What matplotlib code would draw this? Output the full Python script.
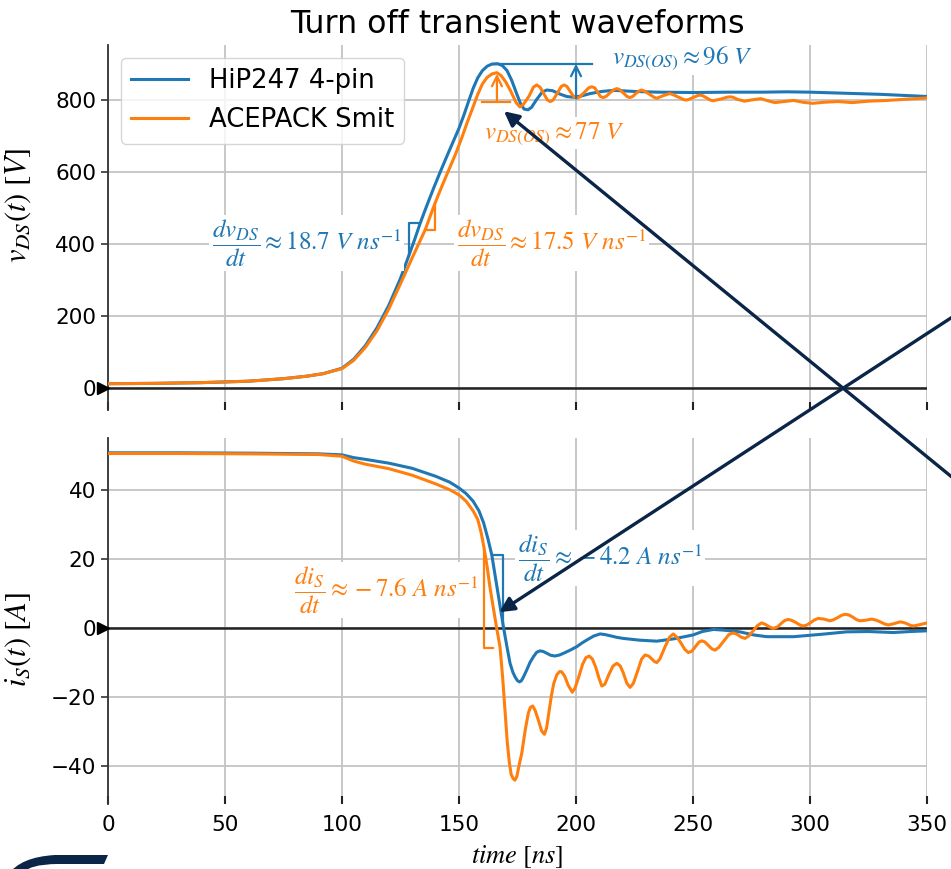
import matplotlib
matplotlib.use("Agg")
import matplotlib.pyplot as plt
from matplotlib.patches import ConnectionPatch, PathPatch
from matplotlib.path import Path

plt.rcParams["font.family"] = ["DejaVu Sans"]
plt.rcParams["mathtext.fontset"] = "stix"

BLUE = "#1f77b4"
ORANGE = "#ff7f0e"
NAVY = "#0b2548"

# ---------------- drain-source voltage v_DS(t) [V] ----------------
t_v_hip = [0, 20, 40, 60, 75, 85, 92, 100, 105, 110, 115, 120, 125, 128.6, 131,
           133.4, 136, 139, 142, 145, 148, 150, 152, 154, 156, 158, 160,
           162, 164, 166.5, 168.5, 170.5, 172.5, 174.5, 176.3, 177.8, 179.5,
           181, 183, 185.5, 187.5, 190, 193, 196, 198.7, 202, 206, 211, 216,
           225, 235, 250, 265, 280, 290, 300, 315, 330, 340, 350]
v_hip = [12, 13, 15, 19, 26, 33, 40, 55, 80, 118, 168, 230, 305, 369, 412,
         458, 503, 553, 601, 647, 692, 722, 757, 795, 832, 862, 882,
         894, 900, 901, 896, 882, 855, 820, 790, 775, 773,
         780, 800, 822, 828, 826, 817, 810, 808, 811, 818, 824, 827,
         824, 822, 821, 822, 822, 823, 822, 819, 816, 813, 810]

t_v_ace = [0, 20, 40, 60, 75, 85, 92, 100, 105, 110, 115, 120, 125, 130, 135.5,
           139.7, 142.5, 145.5, 148.5, 151, 153.5, 156, 158, 160, 162, 164.2,
           166.2, 168, 170, 172, 174.4, 176, 177.5, 180, 181.8, 183.2, 184.6,
           186, 187.8, 189, 190.2, 192, 193.7, 194.9, 196.1, 197.6, 199.2,
           200.3, 201.4, 203.5, 205.4, 206.7, 208, 209.2, 210.4, 211.6, 212.8,
           214.5, 216.2, 217.4, 218.6, 220.2, 221.8, 223, 224.2, 225.5, 226.9,
           228, 229.2, 231.2, 233.3, 234.5, 235.6, 237.2, 238.9, 240, 241.1,
           243.5, 245.8, 247, 248.2, 250, 251.8, 253, 254.2, 255.8, 257.4,
           258.6, 259.8, 262, 264.5, 265.8, 267, 269, 272, 275.5, 279, 282, 285,
           289, 293, 297, 301, 306, 312, 318, 325, 333, 340, 350]
v_ace = [12, 13, 15, 19, 26, 33, 40, 54, 77, 113, 160, 220, 290, 362, 439,
         513, 558, 604, 650, 692, 738, 781, 816, 845, 863, 873,
         876, 868, 850, 826, 793, 781, 788, 812, 836, 842, 836,
         820, 800, 796, 800, 819, 838, 842, 838, 823, 808,
         805, 808, 821, 834, 837, 834, 822, 810, 807, 810,
         820, 829, 832, 829, 820, 810, 807, 810, 818, 825,
         828, 825, 817, 808, 805, 808, 812, 816, 818, 816,
         809, 802, 800, 802, 807, 812, 814, 812, 806, 800,
         798, 800, 803, 808, 809, 808, 802, 797, 801, 804, 798, 793,
         796, 799, 794, 791, 794, 796, 793, 797, 799, 802, 806]

# ---------------- source current i_S(t) [A] ----------------
t_i_hip = [0, 30, 60, 90, 100, 105, 110, 120, 130, 140, 146, 150, 153, 156,
           158.5, 160.5, 162.3, 164, 166.5, 169, 170.5, 171.8, 173, 173.9,
           174.9, 175.8, 176.6, 177.3, 178.9, 180.3, 181.8, 183.2, 184.6, 186,
           187.5, 189.2, 191, 193, 195, 197.5, 200.3, 202.6, 205, 207.6, 210.3,
           212.5, 215, 217.5, 220.2, 227, 234.5, 242, 250, 254, 258.7, 263, 270,
           276, 281.5, 293, 305, 315.6, 325, 335.5, 343, 350]
i_hip = [50.8, 50.8, 50.7, 50.5, 50.2, 49.4, 48.9, 47.8, 46.3, 44.0, 42.3, 40.6,
         39.0, 36.8, 34.0, 30.5, 26.0, 21.2, 10.7, 0.2, -5.5, -10.2, -12.8, -14.1,
         -15.2, -15.6, -15.3, -14.5, -12.2, -10.0, -8.3, -7.0, -6.6, -6.8,
         -7.3, -7.9, -8.1, -7.8, -7.2, -6.4, -5.4, -4.3, -3.3, -2.3, -1.7,
         -1.9, -2.3, -2.7, -3.0, -3.5, -3.8, -3.1, -2.0, -1.0, -0.4, -0.6, -1.1,
         -2.0, -2.5, -2.5, -1.8, -1.1, -1.0, -1.3, -1.0, -0.8]

t_i_ace = [0, 30, 60, 90, 100, 105, 110, 120, 130, 140, 146, 150, 153, 156, 158,
           159.5, 160.7, 162, 163.2, 164.6, 166, 167.5, 168.6, 169.7, 170.6,
           171.5, 172.3, 173.1, 173.9, 174.7, 175.6, 176.8, 178.3, 179.6, 180.5,
           181.5, 182.6, 183.9, 185.3, 186.5, 187.4, 188.5, 189.5, 190.5, 191.8,
           193, 193.9, 195.2, 196.6, 198.4, 199.5, 201, 202.8, 204.2, 205.6, 207,
           208.5, 209.8, 211, 212.3, 214, 215.8, 217.4, 218.9, 220.2, 221.7,
           223.1, 224.5, 226.3, 228, 229.5, 231, 232.3, 233.5, 234.5, 235.8, 238,
           240, 241.6, 243.3, 244.8, 246.5, 248, 249.5, 251.2, 252.5, 253.7, 255,
           256.5, 258, 259.4, 261, 263.3, 265.3, 267.2, 268.8, 270.5, 272.2,
           273.8, 275.7, 277.5, 279.3, 280.8, 282.5, 284.3, 286, 287.8, 289.2,
           290.7, 292.3, 294, 295.6, 297.1, 298.7, 300.3, 302, 303.5, 306, 308.5,
           310, 311.7, 313.5, 315, 316.6, 318.2, 320, 321.4, 324, 326.4, 328.2,
           330, 331.8, 333.5, 336, 338.5, 340, 341.3, 342.8, 344.2, 347, 350]
i_ace = [50.6, 50.6, 50.5, 50.3, 49.8, 48.4, 47.5, 46.2, 44.3, 41.8, 40.1, 38.6,
         36.8, 34.0, 31.5, 27.5, 23.2, 17.8, 11.9, 6.0, 0.3, -5.4, -14.0, -24.7,
         -33.0, -39.0, -42.5, -43.6, -44.1, -43.0, -40.0, -36.3, -29.5, -24.7,
         -23.0, -22.6, -24.0, -26.7, -29.8, -30.8, -29.0, -24.0, -19.5, -16.0,
         -13.5, -12.6, -12.7, -14.0, -16.5, -18.6, -17.5, -14.5, -10.5, -8.6,
         -8.1, -9.0, -11.5, -14.5, -16.8, -16.3, -13.5, -11.0, -10.2, -11.0,
         -13.0, -16.0, -17.2, -16.0, -12.5, -9.0, -7.8, -8.1, -8.9, -9.7, -10.0,
         -9.0, -5.5, -2.6, -1.7, -2.8, -4.3, -6.2, -7.1, -6.7, -5.2, -4.1, -3.7,
         -4.0, -5.0, -6.0, -6.4, -5.6, -3.6, -1.9, -1.4, -1.8, -2.6, -3.0, -2.3,
         -0.8, 0.7, 1.5, 1.1, 0.4, -0.1, 0.3, 1.4, 2.2, 2.5, 2.2, 1.6, 0.9, 0.6,
         0.9, 1.6, 2.4, 2.8, 2.6, 2.1, 2.4, 3.0, 3.7, 4.0, 3.8, 3.2, 2.4, 2.1,
         2.3, 2.6, 2.3, 1.8, 1.2, 0.9, 1.3, 1.8, 1.6, 1.3, 0.8, 0.6, 1.0, 1.5]

# ---------------- slope / overshoot annotations ----------------
dvdt_hip = 18.7          # V/ns
dvdt_ace = 17.5          # V/ns
didt_hip = -4.2          # A/ns
didt_ace = -7.6          # A/ns
os_hip = 96              # V
os_ace = 77              # V

fig = plt.figure(figsize=(9.51, 8.69), dpi=100)
ax_v = fig.add_axes([0.1136, 0.5282, 0.8612, 0.4200])
ax_i = fig.add_axes([0.1136, 0.0748, 0.8612, 0.4212])

ax_v.plot(t_v_hip, v_hip, color=BLUE, lw=2.2, label="HiP247 4-pin", zorder=3)
ax_v.plot(t_v_ace, v_ace, color=ORANGE, lw=2.2, label="ACEPACK Smit", zorder=3)
ax_i.plot(t_i_hip, i_hip, color=BLUE, lw=2.2, zorder=3)
ax_i.plot(t_i_ace, i_ace, color=ORANGE, lw=2.2, zorder=3)

for ax in (ax_v, ax_i):
    ax.set_xlim(0, 350)
    ax.set_xticks(range(0, 351, 50))
    ax.grid(True, color="#c4c4c4", lw=1.3)
    ax.set_axisbelow(True)
    for side in ("top", "right", "bottom"):
        ax.spines[side].set_visible(False)
    ax.spines["left"].set_color("#333333")
    ax.spines["left"].set_linewidth(1.3)
    ax.tick_params(axis="x", direction="in", length=6, width=1.5, color="#222222",
                   labelsize=15.5, pad=8)
    ax.tick_params(axis="y", direction="out", length=5, width=1.2, color="#333333",
                   labelsize=15.5)
    ax.axhline(0, color="#222222", lw=1.8, zorder=2)
    ax.plot([-0.0065], [0], marker=">", color="k", ms=9, ls="none",
            transform=ax.get_yaxis_transform(), clip_on=False, zorder=5)

ax_v.tick_params(labelbottom=False)
ax_v.set_ylim(-61, 953)
ax_v.set_yticks([0, 200, 400, 600, 800])
ax_i.set_ylim(-51, 55.1)
ax_i.set_yticks([-40, -20, 0, 20, 40])

ax_v.set_ylabel(r"$v_{DS}(t)\ [V]$", fontsize=22)
ax_i.set_ylabel(r"$i_{S}(t)\ [A]$", fontsize=22)
ax_v.yaxis.set_label_coords(-0.092, 0.56)
ax_i.yaxis.set_label_coords(-0.092, 0.45)
ax_i.set_xlabel(r"$time\ [ns]$", fontsize=19, labelpad=6)
ax_v.set_title("Turn off transient waveforms", fontsize=22.8, pad=9)

ax_v.legend(loc="upper left", fontsize=18.6, handlelength=2.2, framealpha=0.8,
            edgecolor="#cccccc")

# slope triangles on the voltage rise
t1, v1 = 128.6, 369
v2 = 458
ax_v.plot([t1, t1, t1 + (v2 - v1) / dvdt_hip], [v1, v2, v2], color=BLUE, lw=1.6, zorder=4)
t1, v1, t2 = 135.5, 439, 139.7
ax_v.plot([t1, t2, t2], [v1, v1, v1 + dvdt_ace * (t2 - t1)], color=ORANGE, lw=1.6, zorder=4)

# overshoot markers
base_hip, t_os_hip = 805, 200
ax_v.plot([164.5, 206.8], [base_hip + os_hip] * 2, color=BLUE, lw=1.6, zorder=4)
ax_v.annotate("", xy=(t_os_hip, base_hip + os_hip), xytext=(t_os_hip, base_hip),
              arrowprops=dict(arrowstyle="->", color=BLUE, lw=1.6, shrinkA=0, shrinkB=0,
                              mutation_scale=18), zorder=4)
base_ace, t_os_ace = 796, 166.2
ax_v.plot([160, 171.8], [base_ace] * 2, color=ORANGE, lw=1.6, zorder=4)
ax_v.annotate("", xy=(t_os_ace, base_ace + os_ace), xytext=(t_os_ace, base_ace),
              arrowprops=dict(arrowstyle="->", color=ORANGE, lw=1.6, shrinkA=0, shrinkB=0,
                              mutation_scale=18), zorder=4)

# slope triangles on the current fall
t1, i1, i2 = 164.0, 21.2, 0.2
ax_i.plot([t1, t1 + (i2 - i1) / didt_hip, t1 + (i2 - i1) / didt_hip], [i1, i1, i2],
          color=BLUE, lw=1.6, zorder=4)
t1, i1, i2 = 160.7, 23.2, -5.8
ax_i.plot([t1, t1, t1 + (i2 - i1) / didt_ace], [i1, i2, i2], color=ORANGE, lw=1.6, zorder=4)

box = dict(facecolor="white", edgecolor="none", pad=2)
fs = 18
ax_v.text(215.4, 917, r"$v_{DS(OS)}\approx 96\ V$", color=BLUE, fontsize=fs,
          ha="left", va="center", bbox=box, zorder=3.5)
ax_v.text(160.7, 708, r"$v_{DS(OS)}\approx 77\ V$", color=ORANGE, fontsize=fs,
          ha="left", va="center", bbox=box, zorder=3.5)
ax_v.text(44.4, 403, r"$\dfrac{dv_{DS}}{dt}\approx 18.7\ V\ ns^{-1}$", color=BLUE,
          fontsize=fs, ha="left", va="center", bbox=box, zorder=3.5)
ax_v.text(149, 403, r"$\dfrac{dv_{DS}}{dt}\approx 17.5\ V\ ns^{-1}$", color=ORANGE,
          fontsize=fs, ha="left", va="center", bbox=box, zorder=3.5)
ax_i.text(175.2, 20.3, r"$\dfrac{di_{S}}{dt}\approx -4.2\ A\ ns^{-1}$", color=BLUE,
          fontsize=fs, ha="left", va="center", bbox=box, zorder=3.5)
ax_i.text(79.5, 11, r"$\dfrac{di_{S}}{dt}\approx -7.6\ A\ ns^{-1}$", color=ORANGE,
          fontsize=fs, ha="left", va="center", bbox=box, zorder=3.5)

# pointer arrows coming in from the right-hand side
for start, target, ax in [((1.105, 0.358), (169.2, 769), ax_v),
                          ((1.105, 0.709), (167.2, 4.6), ax_i)]:
    cp = ConnectionPatch(xyA=start, coordsA=fig.transFigure, xyB=target,
                         coordsB=ax.transData, arrowstyle="-|>", color=NAVY,
                         lw=2.4, mutation_scale=22, zorder=10)
    fig.add_artist(cp)

# corner of the logo frame at the lower left
W, H = 951.0, 869.0
px = [(108, 855), (55, 855), (20, 857), (8, 875), (21, 875), (28, 864), (58, 864),
      (104, 864), (108, 855)]
codes = [Path.MOVETO, Path.LINETO, Path.CURVE3, Path.CURVE3, Path.LINETO,
         Path.CURVE3, Path.CURVE3, Path.LINETO, Path.CLOSEPOLY]
logo = Path([(x / W, 1 - y / H) for x, y in px], codes)
fig.add_artist(PathPatch(logo, facecolor=NAVY, edgecolor="none",
                         transform=fig.transFigure))

fig.savefig("out.png", dpi=100)
